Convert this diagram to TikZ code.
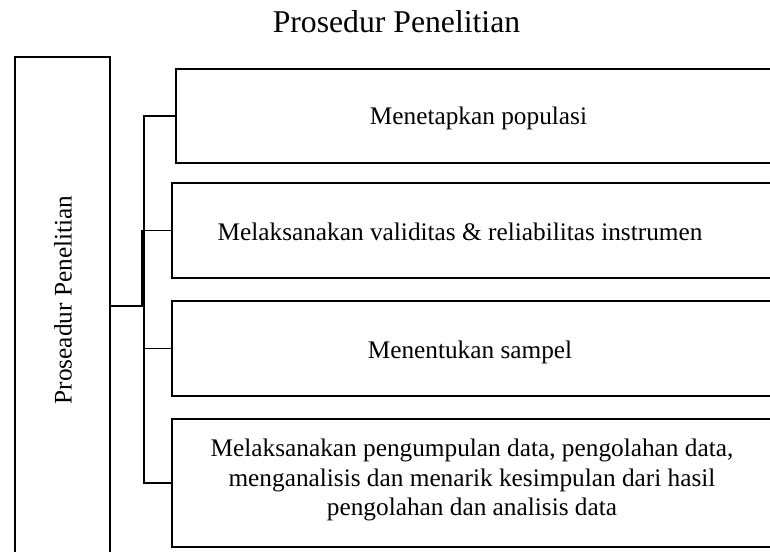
\documentclass[tikz,border=0pt]{standalone}
\usepackage{fontspec}
\setmainfont{Liberation Serif}
\usetikzlibrary{fit}

\begin{document}
\begin{tikzpicture}[x=0.5pt,y=-0.5pt,
  box/.style={draw,line width=0.8pt,inner sep=0pt},
  txt/.style={font=\fontsize{12.65}{14.75}\selectfont,inner sep=0pt},
  conn/.style={line width=0.8pt}]
\useasboundingbox (0,0) rectangle (770,551);
\clip (0,0) rectangle (770,551);

% title
\node[font=\fontsize{15.85}{19}\selectfont,anchor=base,inner sep=0pt] (title) at (396.5,33) {Prosedur Penelitian};

% root box (runs off the bottom)
\node[box,fit={(15,57) (110,555)}] (root) {};
\node[txt,rotate=90] (rootlbl) at (63,300) {Proseadur Penelitian};

% steps (run off the right side)
\node[box,fit={(176,69) (830,163)}] (b1) {};
\node[box,fit={(172,183) (830,278)}] (b2) {};
\node[box,fit={(172,301) (830,396)}] (b3) {};
\node[box,fit={(172,419) (830,547)}] (b4) {};

\node[txt,anchor=base] (t1) at (478.5,125) {Menetapkan populasi};
\node[txt,anchor=base] (t2) at (460,240) {Melaksanakan validitas \& reliabilitas instrumen};
\node[txt,anchor=base] (t3) at (470,358) {Menentukan sampel};
\node[txt,align=center] (t4) at (472,480) {Melaksanakan pengumpulan data, pengolahan data,\\
  menganalisis dan menarik kesimpulan dari hasil\\
  pengolahan dan analisis data};

% connectors
\path (root.east) ++(33,0) coordinate (jn);
\draw[conn] (root.east) -- (jn) |- (b1.west);
\draw[conn] (jn) |- (b3.west);
\draw[conn] (jn) |- (b4.west);
% second line into b2, a bit to the left
\draw[conn] ([xshift=-1pt]jn) |- (b2.west);
\end{tikzpicture}
\end{document}
